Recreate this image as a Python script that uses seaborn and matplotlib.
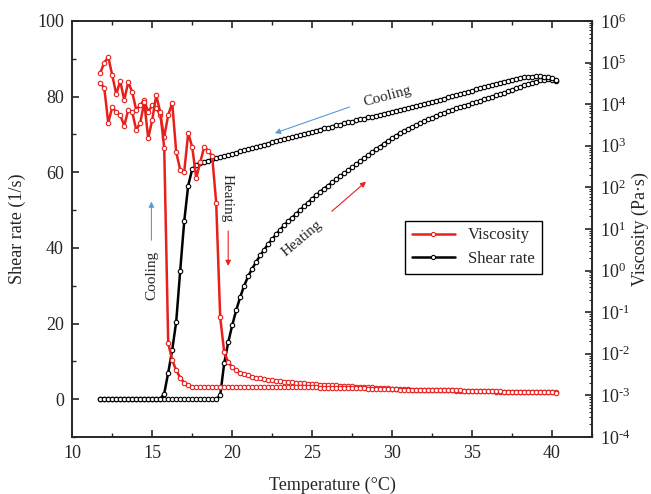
import numpy as np
import pandas as pd
import seaborn as sns
import matplotlib
matplotlib.use('Agg')
import matplotlib.pyplot as plt
from matplotlib.ticker import MultipleLocator, LogLocator, NullFormatter, FuncFormatter
from matplotlib.lines import Line2D

# Temperature readings (°C), one sweep grid shared by heating and cooling runs
temp = [11.75, 12.0, 12.25, 12.5, 12.75, 13.0, 13.25, 13.5, 13.75, 14.0,
        14.25, 14.5, 14.75, 15.0, 15.25, 15.5, 15.75, 16.0, 16.25, 16.5,
        16.75, 17.0, 17.25, 17.5, 17.75, 18.0, 18.25, 18.5, 18.75, 19.0,
        19.25, 19.5, 19.75, 20.0, 20.25, 20.5, 20.75, 21.0, 21.25, 21.5,
        21.75, 22.0, 22.25, 22.5, 22.75, 23.0, 23.25, 23.5, 23.75, 24.0,
        24.25, 24.5, 24.75, 25.0, 25.25, 25.5, 25.75, 26.0, 26.25, 26.5,
        26.75, 27.0, 27.25, 27.5, 27.75, 28.0, 28.25, 28.5, 28.75, 29.0,
        29.25, 29.5, 29.75, 30.0, 30.25, 30.5, 30.75, 31.0, 31.25, 31.5,
        31.75, 32.0, 32.25, 32.5, 32.75, 33.0, 33.25, 33.5, 33.75, 34.0,
        34.25, 34.5, 34.75, 35.0, 35.25, 35.5, 35.75, 36.0, 36.25, 36.5,
        36.75, 37.0, 37.25, 37.5, 37.75, 38.0, 38.25, 38.5, 38.75, 39.0,
        39.25, 39.5, 39.75, 40.0, 40.25]

# Shear rate (1/s), heating run
shear_heat = [0, 0, 0, 0, 0, 0, 0, 0, 0, 0,
              0, 0, 0, 0, 0, 0, 0, 0, 0, 0,
              0, 0, 0, 0, 0, 0, 0, 0, 0, 0,
              1.0, 9.5, 15.0, 19.5, 23.5, 27.0, 30.0, 32.5, 34.5, 36.3,
              38.0, 39.5, 41.0, 42.3, 43.6, 44.8, 46.0, 47.0, 48.0, 49.0,
              50.0, 51.0, 52.0, 53.0, 53.9, 54.8, 55.7, 56.5, 57.3, 58.1,
              58.9, 59.7, 60.5, 61.3, 62.1, 62.9, 63.7, 64.5, 65.3, 66.1,
              66.8, 67.6, 68.3, 69.0, 69.7, 70.3, 70.9, 71.5, 72.0, 72.5,
              73.0, 73.5, 74.0, 74.4, 74.9, 75.3, 75.7, 76.1, 76.5, 76.9,
              77.2, 77.6, 77.9, 78.2, 78.6, 78.9, 79.3, 79.6, 80.0, 80.3,
              80.7, 81.0, 81.4, 81.8, 82.2, 82.6, 83.0, 83.4, 83.7, 84.0,
              84.3, 84.5, 84.6, 84.5, 84.2]

# Shear rate (1/s), cooling run
shear_cool = [0, 0, 0, 0, 0, 0, 0, 0, 0, 0,
              0, 0, 0, 0, 0, 0, 1.5, 7.0, 13.0, 20.5,
              34.0, 47.0, 56.5, 60.8, 61.9, 62.4, 62.8, 63.1, 63.4, 63.7,
              64.0, 64.3, 64.6, 64.9, 65.2, 65.5, 65.8, 66.1, 66.4, 66.7,
              67.0, 67.3, 67.6, 67.9, 68.2, 68.5, 68.8, 69.0, 69.3, 69.6,
              69.9, 70.2, 70.4, 70.7, 71.0, 71.3, 71.6, 71.8, 72.1, 72.4,
              72.6, 72.9, 73.2, 73.4, 73.7, 74.0, 74.2, 74.5, 74.7, 75.0,
              75.2, 75.5, 75.8, 76.0, 76.3, 76.5, 76.8, 77.0, 77.3, 77.6,
              77.8, 78.1, 78.4, 78.7, 78.9, 79.2, 79.5, 79.8, 80.1, 80.4,
              80.7, 81.0, 81.3, 81.6, 81.9, 82.2, 82.5, 82.8, 83.1, 83.4,
              83.7, 84.0, 84.2, 84.5, 84.7, 84.9, 85.1, 85.2, 85.3, 85.4,
              85.4, 85.3, 85.1, 84.8, 84.3]

# log10 of viscosity (Pa·s), heating run
visc_heat_log = [4.75, 5.00, 5.13, 4.70, 4.24, 4.56, 4.10, 4.53, 4.29, 3.86,
                 3.98, 4.10, 3.81, 3.98, 3.90, 3.75, 3.21, 3.74, 4.03, 2.85,
                 2.42, 2.37, 3.31, 2.97, 2.23, 2.60, 2.97, 2.88, 2.75, 1.63,
                 -1.12, -1.96, -2.20, -2.32, -2.40, -2.45, -2.49, -2.52, -2.55, -2.57,
                 -2.59, -2.61, -2.62, -2.64, -2.65, -2.66, -2.67, -2.68, -2.69, -2.70,
                 -2.70, -2.71, -2.72, -2.72, -2.73, -2.74, -2.74, -2.75, -2.76, -2.76,
                 -2.77, -2.77, -2.78, -2.78, -2.79, -2.80, -2.80, -2.81, -2.81, -2.82,
                 -2.82, -2.83, -2.83, -2.84, -2.84, -2.85, -2.85, -2.85, -2.86, -2.86,
                 -2.86, -2.87, -2.87, -2.87, -2.87, -2.88, -2.88, -2.88, -2.88, -2.89,
                 -2.89, -2.89, -2.89, -2.89, -2.90, -2.90, -2.90, -2.90, -2.90, -2.91,
                 -2.91, -2.91, -2.91, -2.91, -2.91, -2.92, -2.92, -2.92, -2.92, -2.92,
                 -2.92, -2.93, -2.93, -2.93, -2.93]

# log10 of viscosity (Pa·s), cooling run
visc_cool_log = [4.50, 4.40, 3.55, 3.93, 3.81, 3.74, 3.48, 3.86, 3.81, 3.38,
                 3.55, 4.05, 3.18, 3.62, 4.22, 3.81, 2.95, -1.75, -2.15, -2.40,
                 -2.57, -2.70, -2.76, -2.79, -2.80, -2.80, -2.80, -2.80, -2.80, -2.80,
                 -2.80, -2.80, -2.80, -2.80, -2.80, -2.80, -2.80, -2.80, -2.80, -2.80,
                 -2.80, -2.80, -2.80, -2.80, -2.80, -2.81, -2.81, -2.81, -2.81, -2.81,
                 -2.81, -2.81, -2.81, -2.81, -2.81, -2.82, -2.82, -2.82, -2.82, -2.82,
                 -2.82, -2.82, -2.82, -2.83, -2.83, -2.83, -2.83, -2.84, -2.84, -2.84,
                 -2.84, -2.85, -2.85, -2.85, -2.85, -2.86, -2.86, -2.86, -2.86, -2.86,
                 -2.86, -2.87, -2.87, -2.87, -2.87, -2.87, -2.88, -2.88, -2.88, -2.88,
                 -2.88, -2.89, -2.89, -2.89, -2.89, -2.89, -2.90, -2.90, -2.90, -2.90,
                 -2.90, -2.91, -2.91, -2.91, -2.91, -2.91, -2.92, -2.92, -2.92, -2.92,
                 -2.92, -2.93, -2.93, -2.93, -2.94]

df = pd.DataFrame({'temp': temp, 'shear_heat': shear_heat, 'shear_cool': shear_cool,
                   'visc_heat': np.power(10.0, visc_heat_log),
                   'visc_cool': np.power(10.0, visc_cool_log)})

sns.set_style('ticks')
plt.rcParams['font.family'] = ['Liberation Serif', 'DejaVu Serif']
plt.rcParams['mathtext.fontset'] = 'custom'
plt.rcParams['mathtext.rm'] = 'Liberation Serif'
plt.rcParams['mathtext.it'] = 'Liberation Serif:italic'
plt.rcParams['axes.linewidth'] = 1.2

red = '#E8201C'
blue = '#5B9BD5'
line_kw = dict(marker='o', markersize=3.2, markerfacecolor='white',
               markeredgewidth=0.8, linewidth=1.8, sort=False, estimator=None)

fig = plt.figure(figsize=(6.51, 4.94), dpi=100)
ax = fig.add_axes([0.111, 0.1154, 0.7984, 0.8421])
ax2 = ax.twinx()

# shear rate on the left (linear) axis
sns.lineplot(data=df, x='temp', y='shear_heat', ax=ax, color='black',
             markeredgecolor='black', **line_kw)
sns.lineplot(data=df, x='temp', y='shear_cool', ax=ax, color='black',
             markeredgecolor='black', **line_kw)

# viscosity on the right (log) axis
sns.lineplot(data=df, x='temp', y='visc_heat', ax=ax2, color=red,
             markeredgecolor=red, **line_kw)
sns.lineplot(data=df, x='temp', y='visc_cool', ax=ax2, color=red,
             markeredgecolor=red, **line_kw)

ax.set_xlim(10, 42.5)
ax.set_ylim(-10, 100)
ax2.set_yscale('log')
ax2.set_ylim(1e-4, 1e6)


def decade_label(v, pos):
    e = int(round(np.log10(v)))
    s = r'\text{-}%d' % -e if e < 0 else '%d' % e
    return r'$10^{%s}$' % s


ax.xaxis.set_major_locator(MultipleLocator(5))
ax.xaxis.set_minor_locator(MultipleLocator(2.5))
ax.yaxis.set_major_locator(MultipleLocator(20))
ax.yaxis.set_minor_locator(MultipleLocator(10))
ax2.yaxis.set_major_locator(LogLocator(base=10, numticks=20))
ax2.yaxis.set_major_formatter(FuncFormatter(decade_label))
ax2.yaxis.set_minor_locator(LogLocator(base=10, subs=np.arange(2, 10), numticks=20))
ax2.yaxis.set_minor_formatter(NullFormatter())

ax.tick_params(which='both', direction='in', top=True, right=False, labelsize=13, pad=6)
ax.tick_params(which='major', length=5, width=1.2)
ax.tick_params(which='minor', length=3, width=1.0)
ax2.tick_params(which='both', direction='in', labelsize=13, pad=6)
ax2.tick_params(which='major', length=5, width=1.2)
ax2.tick_params(which='minor', length=2.5, width=0.8)

ax.set_xlabel('Temperature (°C)', fontsize=13, labelpad=10)
ax.set_ylabel('Shear rate (1/s)', fontsize=13, labelpad=8)
ax2.set_ylabel('Viscosity (Pa·s)', fontsize=13)
ax2.yaxis.set_label_coords(1.077, 0.5)

# annotations
ax.text(29.7, 80.2, 'Cooling', fontsize=11, rotation=15, ha='center', va='center')
ax.annotate('', xy=(22.5, 70.1), xytext=(27.5, 77.5),
            arrowprops=dict(arrowstyle='-|>', color=blue, lw=0.8, mutation_scale=8))
ax.text(14.95, 32.8, 'Cooling', fontsize=11, rotation=90, ha='center', va='center')
ax.annotate('', xy=(14.95, 53.0), xytext=(14.95, 41.3),
            arrowprops=dict(arrowstyle='-|>', color=blue, lw=0.8, mutation_scale=8))
ax.text(19.65, 53.2, 'Heating', fontsize=11, rotation=270, ha='center', va='center')
ax.annotate('', xy=(19.75, 34.5), xytext=(19.75, 45.2),
            arrowprops=dict(arrowstyle='-|>', color=red, lw=0.8, mutation_scale=8))
ax.text(24.35, 42.6, 'Heating', fontsize=11, rotation=40, ha='center', va='center')
ax.annotate('', xy=(28.5, 58.0), xytext=(26.1, 49.2),
            arrowprops=dict(arrowstyle='-|>', color=red, lw=0.8, mutation_scale=8))

handles = [Line2D([], [], color=red, marker='o', markersize=3, markerfacecolor='white',
                  markeredgecolor=red, markeredgewidth=0.8, linewidth=1.8),
           Line2D([], [], color='black', marker='o', markersize=3, markerfacecolor='white',
                  markeredgecolor='black', markeredgewidth=0.8, linewidth=1.8)]
leg = ax2.legend(handles, ['Viscosity', 'Shear rate'], loc='upper left',
                 bbox_to_anchor=(0.64, 0.52), borderaxespad=0, fontsize=12,
                 frameon=True, fancybox=False, edgecolor='black', framealpha=1,
                 numpoints=1, handlelength=2.6, borderpad=0.4, labelspacing=0.45)
leg.get_frame().set_linewidth(1.0)

fig.savefig('out.png', dpi=100)
